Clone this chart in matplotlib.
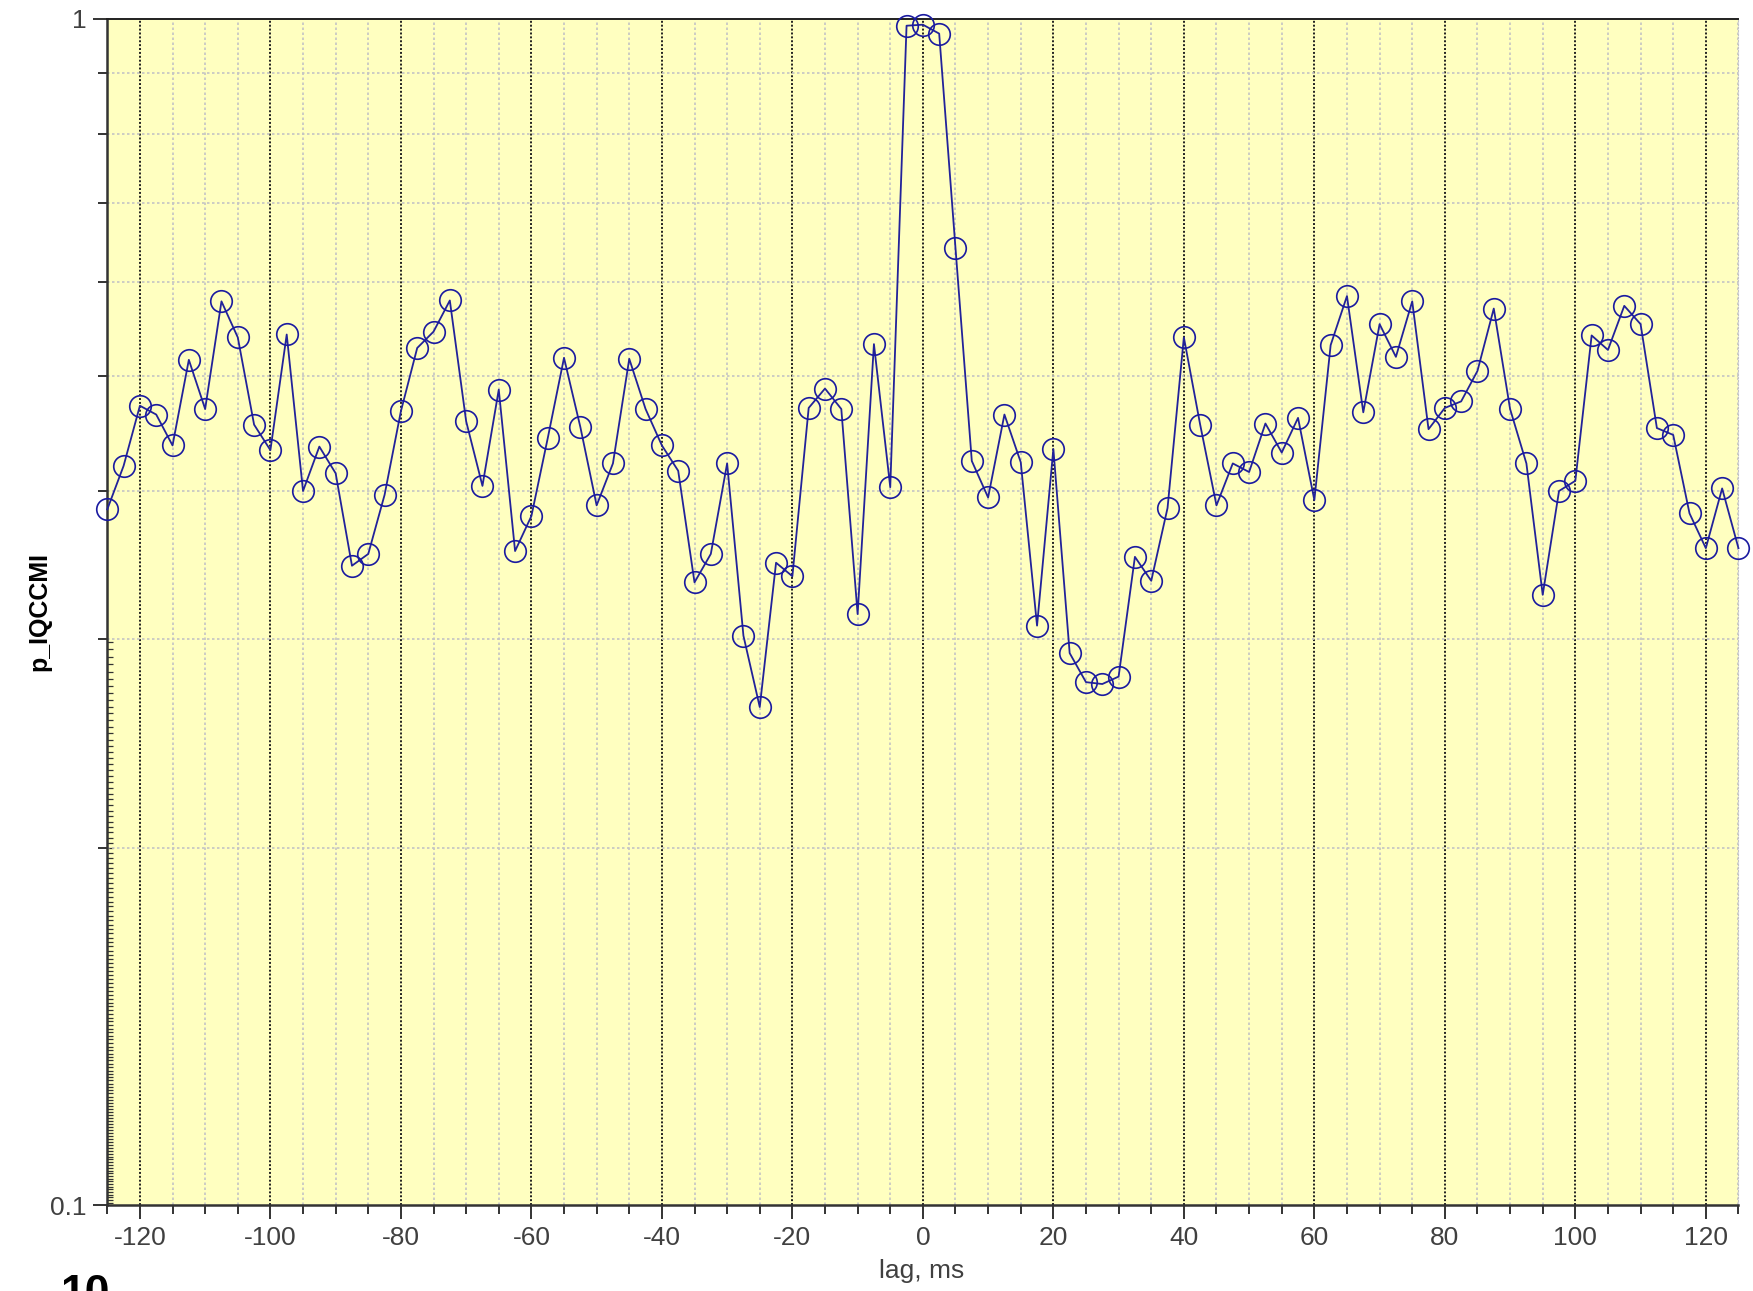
import numpy as np
import matplotlib.pyplot as plt
from matplotlib.ticker import FixedLocator, MultipleLocator, NullFormatter, NullLocator

plt.rcParams['axes.unicode_minus'] = False
plt.rcParams['font.family'] = ['Liberation Sans', 'DejaVu Sans']

# lag grid (ms) and the p_IQCCMI value at each lag
lag = np.linspace(-125, 125, 101)
p_iqccmi = [
    0.386, 0.420, 0.472, 0.464, 0.437, 0.516, 0.469, 0.578, 0.539, 0.455,
    0.433, 0.542, 0.400, 0.436, 0.414, 0.346, 0.354, 0.397, 0.467, 0.528,
    0.545, 0.579, 0.458, 0.404, 0.487, 0.356, 0.381, 0.443, 0.518, 0.453,
    0.389, 0.422, 0.517, 0.469, 0.437, 0.416, 0.335, 0.354, 0.422, 0.302,
    0.263, 0.348, 0.339, 0.470, 0.488, 0.469, 0.315, 0.532, 0.403, 0.987,
    0.989, 0.972, 0.641, 0.424, 0.395, 0.464, 0.423, 0.308, 0.434, 0.292,
    0.276, 0.275, 0.279, 0.352, 0.336, 0.387, 0.539, 0.455, 0.389, 0.422,
    0.415, 0.456, 0.431, 0.461, 0.393, 0.531, 0.584, 0.466, 0.553, 0.519,
    0.578, 0.451, 0.470, 0.476, 0.505, 0.570, 0.469, 0.422, 0.327, 0.400,
    0.408, 0.541, 0.526, 0.573, 0.553, 0.452, 0.446, 0.383, 0.358, 0.402,
    0.358,
]

x_major = [-120, -100, -80, -60, -40, -20, 0, 20, 40, 60, 80, 100, 120]
y_major = [0.1, 1]
y_major_labels = ['0.1', '1']
y_minor = [0.2, 0.3, 0.4, 0.5, 0.6, 0.7, 0.8, 0.9]

fig = plt.figure(figsize=(17.53, 12.91), dpi=100)
ax = fig.add_axes([0.0612, 0.0665, 0.9305, 0.9188])
ax.set_facecolor('#ffffc0')

ax.plot(lag, p_iqccmi, color='#22229a', lw=1.3, marker='o', ms=15.5,
        mfc='none', mec='#1a1aa0', mew=1.2, zorder=3, clip_on=False)

ax.set_yscale('log')
ax.set_xlim(-125, 125)
ax.set_ylim(0.1, 1)

ax.xaxis.set_major_locator(FixedLocator(x_major))
ax.xaxis.set_minor_locator(MultipleLocator(5))
ax.yaxis.set_major_locator(FixedLocator(y_major))
ax.set_yticklabels(y_major_labels)
ax.yaxis.set_minor_locator(FixedLocator(y_minor))
ax.yaxis.set_minor_formatter(NullFormatter())

ax.tick_params(which='major', length=10, width=1.4, color='#333333',
               labelsize=19, labelcolor='#404040', pad=5)
ax.tick_params(which='minor', length=6.5, width=1.4, color='#333333')

# grid: dark dotted every 20 ms, light dotted every 5 ms and at minor decades
ax.grid(which='major', axis='x', color='#202020', ls=(0, (1, 1)), lw=1.4)
ax.grid(which='minor', axis='x', color='#c4c4c4', ls=(0, (1.5, 1.5)), lw=1.2)
ax.grid(which='minor', axis='y', color='#c4c4c4', ls=(0, (1.5, 1.5)), lw=1.2)
ax.set_axisbelow(True)

for side in ('left', 'bottom'):
    ax.spines[side].set_color('#333333')
    ax.spines[side].set_linewidth(1.8)
ax.spines['top'].set_color('#202020')
ax.spines['top'].set_linestyle((0, (1, 1)))
ax.spines['top'].set_linewidth(1.4)
ax.spines['right'].set_color('#c4c4c4')
ax.spines['right'].set_linestyle((0, (1.5, 1.5)))

# dense inward ticks on the lower part of the left axis
sec = ax.secondary_yaxis('left')
sec.spines['left'].set_visible(False)
sec.set_yticks(1 / np.arange(3.35, 10.0, 0.05))
sec.yaxis.set_major_formatter(NullFormatter())
sec.yaxis.set_minor_locator(NullLocator())
sec.tick_params(direction='in', length=4, width=0.9, color='#333333')

fig.text(39 / 1753, 0.526, 'p_IQCCMI', rotation=90, ha='center', va='center',
         fontsize=18, fontweight='bold', color='black')
fig.text(922 / 1753, 1 - 1271 / 1291, 'lag, ms', ha='center', va='center',
         fontsize=19, color='#404040')
fig.text(60 / 1753, 1 - 1274 / 1291, '10', ha='left', va='top',
         fontsize=32, fontweight='bold', color='black')

fig.savefig('out.png', dpi=100)
